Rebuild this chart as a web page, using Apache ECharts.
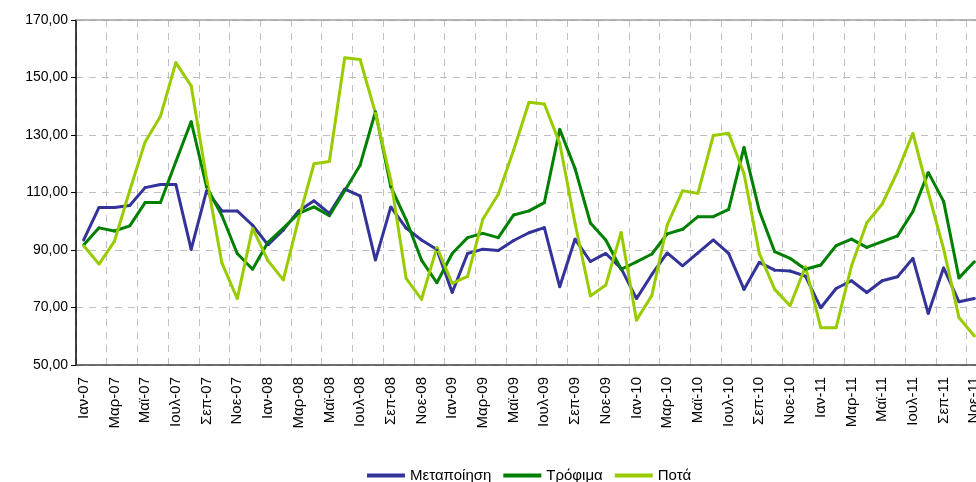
<!DOCTYPE html>
<html>
<head>
<meta charset="utf-8">
<script src="https://cdn.jsdelivr.net/npm/echarts@6/dist/echarts.min.js"></script>
<style>
  html, body { margin: 0; padding: 0; background: #fff; }
  #chart { width: 976px; height: 482px; }
</style>
</head>
<body>
<div id="chart"></div>
<script>
// μήνες: Ιαν-07 ... Νοε-11
var monthNames = ['Ιαν', 'Φεβ', 'Μαρ', 'Απρ', 'Μαϊ', 'Ιουν', 'Ιουλ', 'Αυγ', 'Σεπ', 'Οκτ', 'Νοε', 'Δεκ'];
var years = ['07', '08', '09', '10', '11'];
var categories = [];
for (var y = 0; y < years.length; y++) {
    for (var m = 0; m < 12; m++) {
        if (y == 4 && m == 11) break; // τελευταίος μήνας που φαίνεται: Νοε-11
        categories.push(monthNames[m] + '-' + years[y]);
    }
}

// Μεταποίηση
var metapoiisi = [
    93.5, 104.8, 104.8, 105.5, 111.7, 112.8, 112.8, 90.2, 110.6, 103.6, 103.6, 98.6,
    91.8, 97.0, 103.6, 107.1, 102.7, 111.2, 108.8, 86.5, 105.0, 97.6, 93.5, 90.2,
    75.2, 88.8, 90.3, 89.8, 93.3, 96.0, 97.8, 77.2, 93.8, 86.0, 88.8, 83.6,
    73.1, 81.5, 89.0, 84.5, 89.0, 93.5, 88.8, 76.3, 85.7, 83.0, 82.7, 80.9,
    69.9, 76.6, 79.3, 75.2, 79.3, 80.7, 87.1, 67.9, 83.8, 72.0, 73.1
];
// Τρόφιμα
var trofima = [
    91.7, 97.7, 96.6, 98.4, 106.5, 106.5, 120.7, 134.7, 112.0, 102.0, 88.8, 83.3,
    92.7, 97.6, 102.7, 105.0, 101.9, 110.6, 119.5, 138.1, 112.0, 100.5, 86.5, 78.6,
    88.8, 94.3, 95.8, 94.3, 102.2, 103.6, 106.5, 132.0, 118.3, 99.4, 93.5, 83.3,
    85.9, 88.6, 95.6, 97.2, 101.6, 101.6, 104.1, 125.7, 103.6, 89.4, 87.1, 83.3,
    84.8, 91.5, 93.8, 90.9, 92.9, 94.9, 103.4, 117.0, 106.9, 80.3, 85.9
];
// Ποτά
var pota = [
    91.5, 85.1, 93.0, 110.7, 127.6, 136.5, 155.2, 147.1, 115.0, 85.5, 73.1, 97.6,
    86.3, 79.6, 100.8, 120.0, 120.8, 156.9, 156.3, 137.6, 114.3, 80.1, 72.8, 90.9,
    78.4, 80.8, 100.8, 109.4, 124.8, 141.4, 140.8, 127.1, 99.2, 74.0, 77.8, 96.2,
    65.6, 74.2, 98.7, 110.6, 109.7, 129.8, 130.6, 116.6, 88.8, 76.3, 70.6, 84.2,
    63.0, 63.0, 84.4, 99.5, 106.0, 117.3, 130.6, 110.0, 90.4, 66.5, 60.1
];

var fontFamily = '"Liberation Sans", Arial, sans-serif';
var gridDash = { color: '#c0c0c0', width: 1, type: [7, 6] };

var myChart = echarts.init(document.getElementById('chart'));
var option = {
    animation: false,
    textStyle: { fontFamily: fontFamily, color: '#000' },
    grid: { left: 76, top: 20, width: 906, height: 345, outerBoundsMode: 'none' },
    legend: {
        left: 362,
        top: 463,
        itemWidth: 38,
        itemHeight: 4,
        itemGap: 12,
        icon: 'rect',
        textStyle: { fontSize: 15, color: '#000', fontFamily: fontFamily },
        data: ['Μεταποίηση', 'Τρόφιμα', 'Ποτά']
    },
    xAxis: [{
        type: 'category',
        data: categories,
        boundaryGap: true,
        axisLine: { lineStyle: { color: '#404040', width: 1.5 } },
        axisTick: { interval: 1, length: 5, lineStyle: { color: '#404040' } },
        axisLabel: { interval: 1, rotate: 90, margin: 12, fontSize: 15, color: '#000' },
        splitLine: { show: true, interval: 1, lineStyle: gridDash }
    }, {
        type: 'category',
        position: 'top',
        data: categories,
        axisLine: { lineStyle: { color: '#a0a0a0', width: 1.5 } },
        axisTick: { show: false },
        axisLabel: { show: false },
        splitLine: { show: false }
    }],
    yAxis: {
        type: 'value',
        min: 50,
        max: 170,
        interval: 20,
        axisLine: { show: true, lineStyle: { color: '#000', width: 1.5 } },
        axisTick: { show: true, length: 5, lineStyle: { color: '#000' } },
        axisLabel: {
            fontSize: 14,
            color: '#000',
            margin: 8,
            formatter: function(v) {
                return v.toFixed(2).replace('.', ',');
            }
        },
        splitLine: { show: true, lineStyle: gridDash }
    },
    series: [{
            name: 'Μεταποίηση',
            type: 'line',
            data: metapoiisi,
            color: '#333399',
            symbol: 'circle',
            symbolSize: 3,
            lineStyle: { width: 3 }
        },
        {
            name: 'Τρόφιμα',
            type: 'line',
            data: trofima,
            color: '#008000',
            symbol: 'circle',
            symbolSize: 3,
            lineStyle: { width: 3 }
        },
        {
            name: 'Ποτά',
            type: 'line',
            data: pota,
            color: '#99CC00',
            symbol: 'circle',
            symbolSize: 3,
            lineStyle: { width: 3 }
        }
    ]
};
myChart.setOption(option);
</script>
</body>
</html>
